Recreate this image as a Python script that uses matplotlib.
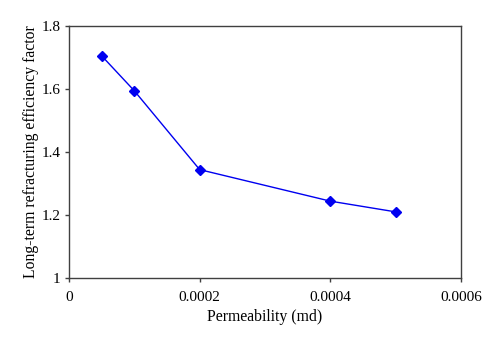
import matplotlib
matplotlib.use("Agg")
import matplotlib.pyplot as plt

# data
permeability = [0.00005, 0.0001, 0.0002, 0.0004, 0.0005]
efficiency = [1.705, 1.594, 1.344, 1.244, 1.21]
xticks = [0, 0.0002, 0.0004, 0.0006]
xticklabels = ["0", "0.0002", "0.0004", "0.0006"]
yticks = [1.0, 1.2, 1.4, 1.6, 1.8]
yticklabels = ["1", "1.2", "1.4", "1.6", "1.8"]

plt.rcParams["font.family"] = ["Liberation Serif", "DejaVu Serif"]

fig = plt.figure(figsize=(5.0, 3.45), dpi=100)
ax = fig.add_axes([0.138, 0.194, 0.784, 0.731])

ax.plot(permeability, efficiency, color="#0000f0", linewidth=1.0,
        marker="D", markersize=5, markerfacecolor="#0000f0", markeredgecolor="#0000f0")

ax.set_xlim(0, 0.0006)
ax.set_ylim(1, 1.8)
ax.set_xticks(xticks)
ax.set_xticklabels(xticklabels)
ax.set_yticks(yticks)
ax.set_yticklabels(yticklabels)

for s in ax.spines.values():
    s.set_color("#404040")
    s.set_linewidth(1.0)
ax.tick_params(direction="out", length=3, width=1.0, color="#404040",
               labelsize=11, pad=3)
ax.tick_params(axis="x", pad=6)

ax.set_xlabel("Permeability (md)", fontsize=11.3, labelpad=4)
ax.set_ylabel("Long-term refracturing efficiency factor", fontsize=11.3, labelpad=2)

fig.savefig("out.png", dpi=100)
